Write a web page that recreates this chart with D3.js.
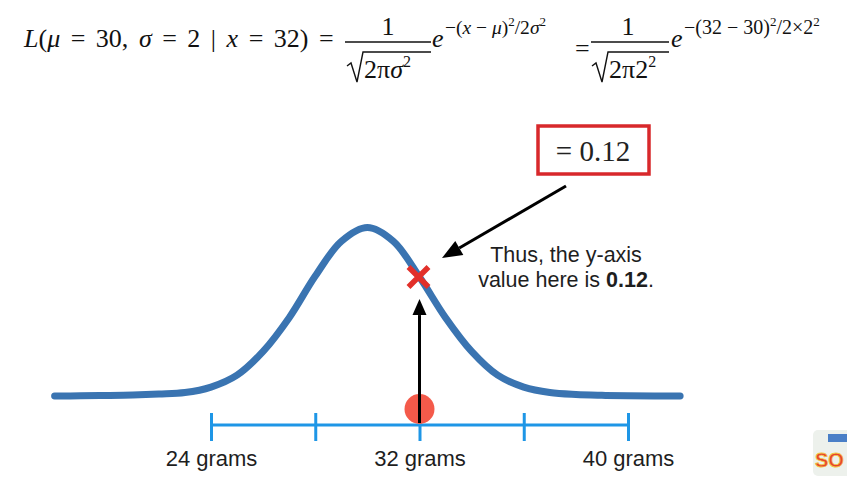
<!DOCTYPE html>
<html><head><meta charset="utf-8">
<script src="https://cdn.jsdelivr.net/npm/d3@7"></script>
<style>body{margin:0;background:#fff}svg{display:block}</style>
</head><body><svg id="c" width="847" height="481"></svg>
<script>
// ---- data ----
const curveGrams  = [18, 19, 20, 21, 22, 23, 24, 25, 26, 27, 28, 29, 30, 31, 32, 33, 34, 35, 36, 37, 38, 39, 40, 41, 42];
const curveValues = [0, 0.0002, 0.0005, 0.001, 0.002, 0.0035, 0.009, 0.021, 0.045, 0.079, 0.121, 0.156, 0.170, 0.156, 0.12, 0.079, 0.045, 0.021, 0.009, 0.0035, 0.0015, 0.0007, 0.0003, 0.0001, 0];
const tickValues = [24, 28, 32, 36, 40];
const tickLabels = ["24 grams", "", "32 grams", "", "40 grams"];
const observedX = [32];
const likelihoodY = [0.12];
const boxText = "= 0.12";
const noteLines = ["Thus, the y-axis", "value here is "];
const noteBold = "0.12";

const svg = d3.select("#c");
svg.append("rect").attr("width", 847).attr("height", 481).attr("fill", "#fff");

const x = d3.scaleLinear().domain([24, 40]).range([211, 628]);
const y = d3.scaleLinear().domain([0, 0.17]).range([396, 227.5]);
const axisY = 425;

// axis
const axisG = svg.append("g").attr("transform", `translate(0,${axisY})`);
const axis = d3.axisBottom(x).tickValues(tickValues).tickSize(0).tickFormat((d, i) => tickLabels[i]);
axisG.call(axis);
axisG.select(".domain").attr("stroke", "#1e96e6").attr("stroke-width", 3).attr("d", `M${x(24)},0H${x(40)}`);
axisG.selectAll(".tick line").remove();
axisG.selectAll(".tick").append("line").attr("y1", -12).attr("y2", 16).attr("stroke", "#1e96e6").attr("stroke-width", 3);
axisG.selectAll(".tick text").attr("y", 41).attr("dy", 0).attr("font-size", 22)
  .attr("font-family", "'Liberation Sans', Arial, sans-serif").attr("fill", "#1e1e1e");

// curve
const pts = curveGrams.map((g, i) => [g, curveValues[i]]);
svg.append("path").datum(pts)
  .attr("d", d3.line().x(d => x(d[0])).y(d => y(d[1])).curve(d3.curveCatmullRom.alpha(0.5)))
  .attr("fill", "none").attr("stroke", "#3a74b1").attr("stroke-width", 7).attr("stroke-linecap", "round");

// dot
svg.selectAll(".obs").data(observedX).enter().append("circle")
  .attr("cx", d => x(d)).attr("cy", axisY - 16).attr("r", 15).attr("fill", "#f45a4a");

function arrow(x1, y1, x2, y2, len, half) {
  const a = Math.atan2(y2 - y1, x2 - x1);
  const bx = x2 - len * Math.cos(a), by = y2 - len * Math.sin(a);
  svg.append("line").attr("x1", x1).attr("y1", y1).attr("x2", bx).attr("y2", by)
    .attr("stroke", "#000").attr("stroke-width", 3);
  const px = -Math.sin(a), py = Math.cos(a);
  svg.append("path").attr("d", `M${x2},${y2}L${bx + px * half},${by + py * half}L${bx - px * half},${by - py * half}Z`).attr("fill", "#000");
}
// vertical arrow
arrow(x(observedX[0]), axisY - 2, x(observedX[0]), y(likelihoodY[0]) + 22, 16, 7);

// red X
const cx = x(observedX[0]) - 1, cy = y(likelihoodY[0]);
const s = 10;
svg.append("path").attr("d", `M${cx - s},${cy - s}L${cx + s},${cy + s}M${cx - s},${cy + s}L${cx + s},${cy - s}`)
  .attr("stroke", "#e2302a").attr("stroke-width", 5.5);

// diagonal arrow
arrow(566, 186, 442, 258, 20, 8);

// box
svg.append("rect").attr("x", 538).attr("y", 126).attr("width", 111).attr("height", 48)
  .attr("fill", "none").attr("stroke", "#d8282b").attr("stroke-width", 3.5);
svg.append("text").attr("x", 593).attr("y", 161).attr("text-anchor", "middle")
  .attr("font-family", "'Liberation Serif', 'Times New Roman', serif").attr("font-size", 29).attr("fill", "#222").text(boxText);

// note
const sans = "'Liberation Sans', Arial, sans-serif";
svg.append("text").attr("x", 566).attr("y", 262).attr("text-anchor", "middle").attr("font-family", sans)
  .attr("font-size", 21.5).attr("fill", "#1e1e1e").text(noteLines[0]);
const t2 = svg.append("text").attr("x", 566).attr("y", 287).attr("text-anchor", "middle").attr("font-family", sans)
  .attr("font-size", 21.5).attr("fill", "#1e1e1e");
t2.append("tspan").text(noteLines[1]);
t2.append("tspan").attr("font-weight", "bold").text(noteBold);
t2.append("tspan").text(".");

// ---- equation ----
const serif = "'Liberation Serif', 'Times New Roman', serif";
const eq = svg.append("g").attr("fill", "#111").attr("font-family", serif);
function piece(xx, yy, str, size, it) {
  return eq.append("text").attr("x", xx).attr("y", yy).attr("font-size", size)
    .attr("font-style", it ? "italic" : "normal").text(str);
}
// parts: [text, italic, dy, small]
function addParts(t, parts, smallSize) {
  parts.forEach(d => {
    const ts = t.append("tspan").text(d[0]);
    if (d[1]) ts.attr("font-style", "italic");
    if (d[2]) ts.attr("dy", d[2]);
    if (d[3]) ts.attr("font-size", smallSize);
  });
}
const mainParts = [["L", 1], ["(", 0], ["μ", 1], [" = 30, ", 0], ["σ", 1], [" = 2 | ", 0], ["x", 1], [" = 32) =", 0]];
const mt = eq.append("text").attr("x", 24).attr("y", 47).attr("font-size", 26).attr("word-spacing", 4).attr("xml:space", "preserve");
addParts(mt, mainParts, 16);

function frac(cxm, x0, x1, radX, denom) {
  piece(cxm, 35, "1", 26, 0).attr("text-anchor", "middle");
  eq.append("line").attr("x1", x0).attr("x2", x1).attr("y1", 42).attr("y2", 42).attr("stroke", "#111").attr("stroke-width", 1.3);
  eq.append("path").attr("d", `M${radX},66L${radX + 4},63L${radX + 10},82L${radX + 16},52L${x1},52`)
    .attr("fill", "none").attr("stroke", "#111").attr("stroke-width", 1.4);
  const t = eq.append("text").attr("x", radX + 17).attr("y", 78).attr("font-size", 26);
  addParts(t, denom, 16);
}
frac(388, 345, 431, 347, [["2", 0], ["π", 0], ["σ", 1], ["2", 0, -11, 1]]);
piece(432, 47, "e", 26, 1);
function expo(x0, parts, size) {
  const t = eq.append("text").attr("x", x0).attr("y", 34).attr("font-size", size).attr("xml:space", "preserve");
  addParts(t, parts, 13);
}
expo(445, [["−(", 0], ["x", 1], [" − ", 0], ["μ", 1], [")", 0], ["2", 0, -8, 1], ["/2", 0, 8], ["σ", 1], ["2", 0, -8, 1]], 19.5);
piece(575, 57, "=", 26, 0);
frac(628, 591, 669, 592, [["2", 0], ["π", 0], ["2", 0], ["2", 0, -11, 1]]);
piece(671, 47, "e", 26, 1);
expo(684, [["−(32 − 30)", 0], ["2", 0, -8, 1], ["/2×2", 0, 8], ["2", 0, -8, 1]], 20);

// logo fragment (bottom-right)
const logo = svg.append("g");
logo.append("rect").attr("x", 813).attr("y", 430).attr("width", 40).attr("height", 46).attr("rx", 5).attr("fill", "#edf1ec");
logo.append("rect").attr("x", 828).attr("y", 434).attr("width", 19).attr("height", 8).attr("fill", "#4a7fc7");
logo.append("text").attr("x", 815).attr("y", 467).attr("font-family", sans).attr("font-weight", "bold").attr("font-size", 20)
  .attr("fill", "#e8432e").attr("stroke", "#f2c443").attr("stroke-width", 0.8).text("SO");
</script></body></html>
